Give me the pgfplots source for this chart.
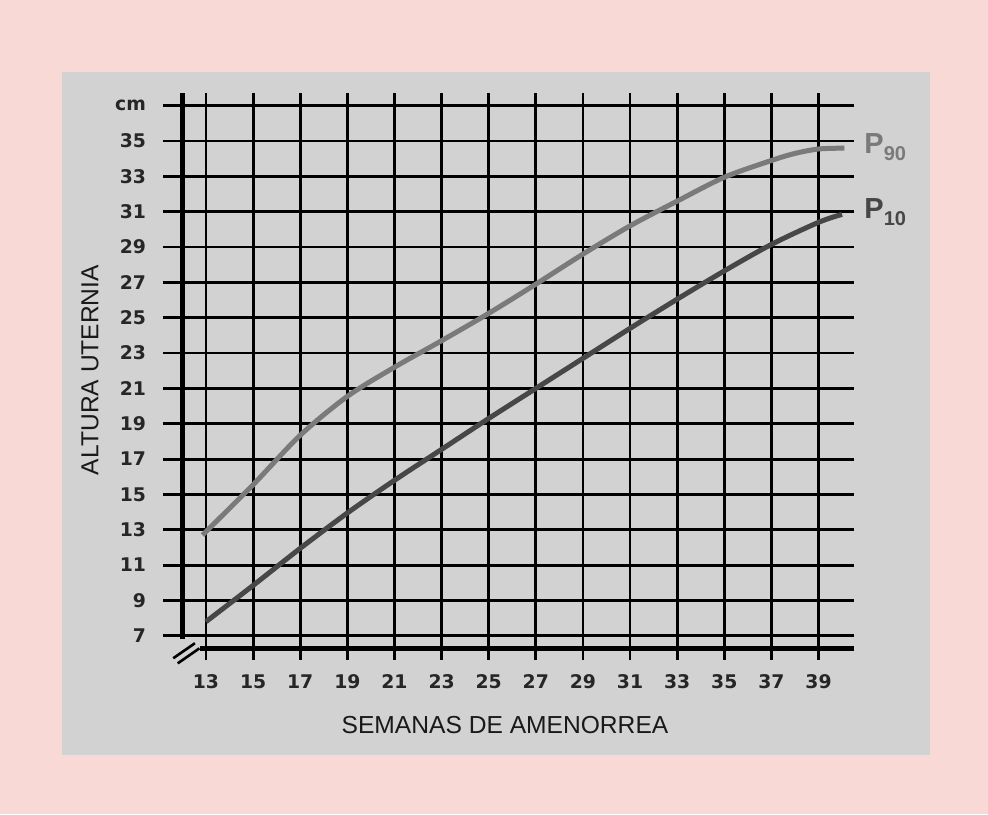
\documentclass[border=0pt]{standalone}
\usepackage{fontspec}
\setmainfont{Liberation Sans}
\newfontfamily\dejavu{DejaVu Sans}
\usepackage{pgfplots}
\pgfplotsset{compat=1.18}
\definecolor{pinkbg}{HTML}{F9D9D6}
\definecolor{panel}{HTML}{D2D2D2}
\definecolor{pninety}{HTML}{7A7A7A}
\definecolor{pten}{HTML}{474747}
\begin{document}
\begin{tikzpicture}
% background: 1px of the reference = 0.5pt
\fill[pinkbg] (0,0) rectangle (494pt,407pt);
\fill[panel] (31pt,29.5pt) rectangle (465pt,371pt);
\begin{axis}[
  at={(81.5pt,77pt)}, anchor=south west,
  scale only axis, width=345.5pt, height=283.5pt,
  xmin=11.175, xmax=40.507, ymin=5.63, ymax=37.72,
  axis line style={draw=none},
  major tick length=0pt,
  xtick={13,15,17,19,21,23,25,27,29,31,33,35,37,39},
  xticklabels={13,15,17,19,21,23,25,27,29,31,33,35,37,39},
  ytick={7,9,11,13,15,17,19,21,23,25,27,29,31,33,35,37},
  yticklabels={7,9,11,13,15,17,19,21,23,25,27,29,31,33,35,cm},
  ticklabel style={font=\dejavu\bfseries\fontsize{9.4}{10}\selectfont, text=black!85},
  xticklabel style={yshift=-3.5pt, text height=7pt, text depth=0pt},
  yticklabel style={xshift=-5pt},
  grid=major,
  major grid style={black, line width=1.4pt},
  clip=false,
]
% thick axes and break mark
\draw[black, line width=2.6pt] (axis cs:12,6.8) -- (axis cs:12,37.72);
\draw[black, line width=2.6pt] (axis cs:12.75,6.26) -- (axis cs:40.5,6.26);
\draw[black, line width=1.3pt] (axis cs:11.61,5.73) -- (axis cs:12.53,6.58);
\draw[black, line width=1.3pt] (axis cs:11.80,5.44) -- (axis cs:12.72,6.29);
% P90
\addplot[pninety, line width=2.5pt, smooth, tension=0.5] coordinates {
  (12.85,12.7) (15,15.55) (17,18.35) (19,20.55) (21,22.2) (23,23.7)
  (25,25.25) (27,26.9) (29,28.6) (31,30.2) (33,31.6) (35,32.95)
  (37,33.9) (38,34.3) (39,34.55) (40.1,34.6)
};
% P10
\addplot[pten, line width=2.5pt, smooth, tension=0.5] coordinates {
  (13,7.8) (15,9.85) (17,11.95) (19,13.95) (21,15.8) (23,17.55)
  (25,19.3) (27,21.0) (29,22.7) (31,24.4) (33,26.05) (35,27.65)
  (37,29.15) (39,30.4) (40,30.85)
};
\end{axis}
\node[anchor=west, text=pninety, font=\bfseries\fontsize{14.5}{16}\selectfont, inner sep=0pt]
  at (432pt,333.5pt) {P\raisebox{-3.5pt}{\fontsize{10}{12}\selectfont 90}};
\node[anchor=west, text=pten, font=\bfseries\fontsize{14.5}{16}\selectfont, inner sep=0pt]
  at (432pt,301pt) {P\raisebox{-3.5pt}{\fontsize{10}{12}\selectfont 10}};
\node[font=\fontsize{12.3}{14}\selectfont, text=black!90] at (252.5pt,44.5pt) {SEMANAS DE AMENORREA};
\node[rotate=90, font=\fontsize{12.3}{14}\selectfont, text=black!90] at (45pt,222pt) {ALTURA UTERNIA};
\end{tikzpicture}
\end{document}
